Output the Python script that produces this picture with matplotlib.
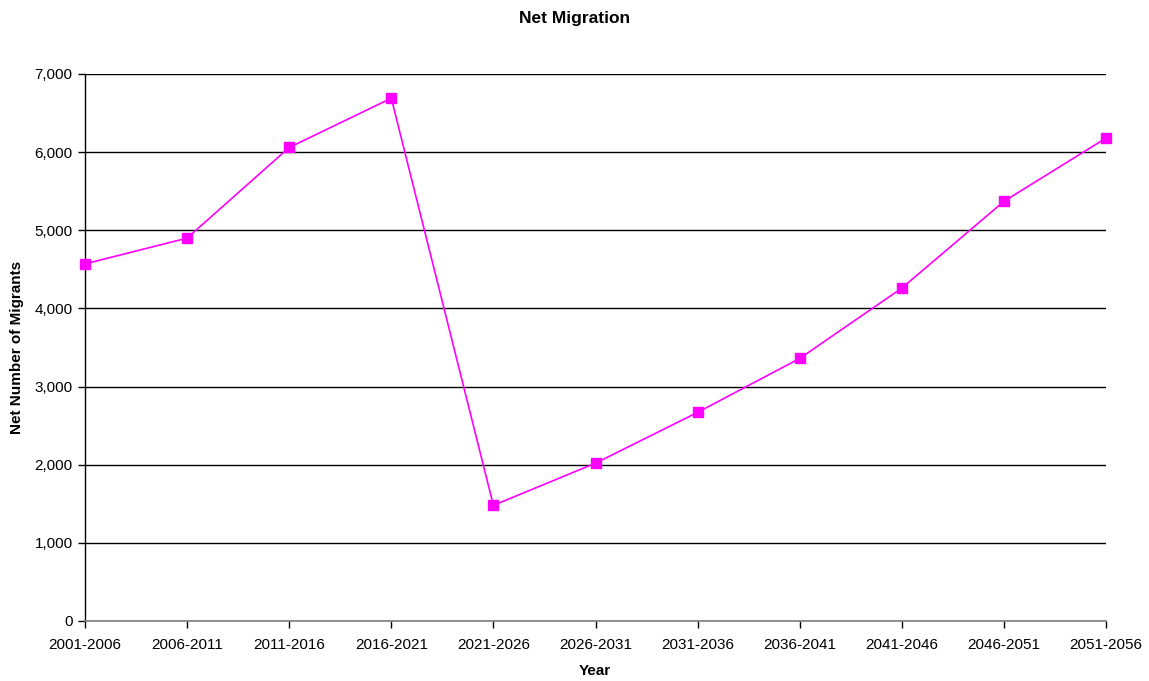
import matplotlib
matplotlib.use("Agg")
import matplotlib.pyplot as plt

periods = ["2001-2006", "2006-2011", "2011-2016", "2016-2021", "2021-2026",
           "2026-2031", "2031-2036", "2036-2041", "2041-2046", "2046-2051", "2051-2056"]
net_migrants = [4570, 4900, 6060, 6690, 1480, 2020, 2670, 3360, 4260, 5370, 6180]
y_ticks = [0, 1000, 2000, 3000, 4000, 5000, 6000, 7000]

plt.rcParams['font.family'] = ['Liberation Sans', 'DejaVu Sans']

fig = plt.figure(figsize=(11.49, 6.81), dpi=100)
ax = fig.add_axes([85/1149, 1-621/681, (1106-85)/1149, (621-74)/681])

x = list(range(len(periods)))
ax.plot(x, net_migrants, color='#FF00FF', linewidth=1.2, marker='s',
        markersize=6.5, markerfacecolor='#FF00FF', markeredgecolor='#FF00FF',
        zorder=3, clip_on=False)

ax.set_xlim(0, len(periods) - 1)
ax.set_ylim(0, 7000)
ax.set_xticks(x)
ax.set_xticklabels(periods, fontsize=11)
ax.set_yticks(y_ticks)
ax.set_yticklabels([f"{v:,}" for v in y_ticks], fontsize=11)
ax.yaxis.grid(True, color='black', linewidth=1)
ax.set_axisbelow(True)
ax.tick_params(axis='both', direction='out', length=5, width=1, color='black')
ax.tick_params(axis='x', pad=7)
ax.tick_params(axis='y', pad=4)
for s in ['top', 'right']:
    ax.spines[s].set_visible(False)
ax.spines['left'].set_color('black')
ax.spines['bottom'].set_color('#808080')
ax.spines['left'].set_linewidth(1)
ax.spines['bottom'].set_linewidth(1.2)

ax.set_xlabel("Year", fontsize=11, fontweight='bold')
ax.set_ylabel("Net Number of Migrants", fontsize=11, fontweight='bold')
ax.xaxis.set_label_coords((595-85)/1021, (621-671)/547)
ax.yaxis.set_label_coords((17-85)/1021, 0.5)
ax.xaxis.label.set_va('center')
ax.yaxis.label.set_va('center')
fig.text(0.5, 1-18/681, "Net Migration", ha='center', va='center', fontsize=12.5, fontweight='bold')

fig.savefig("out.png", dpi=100)
